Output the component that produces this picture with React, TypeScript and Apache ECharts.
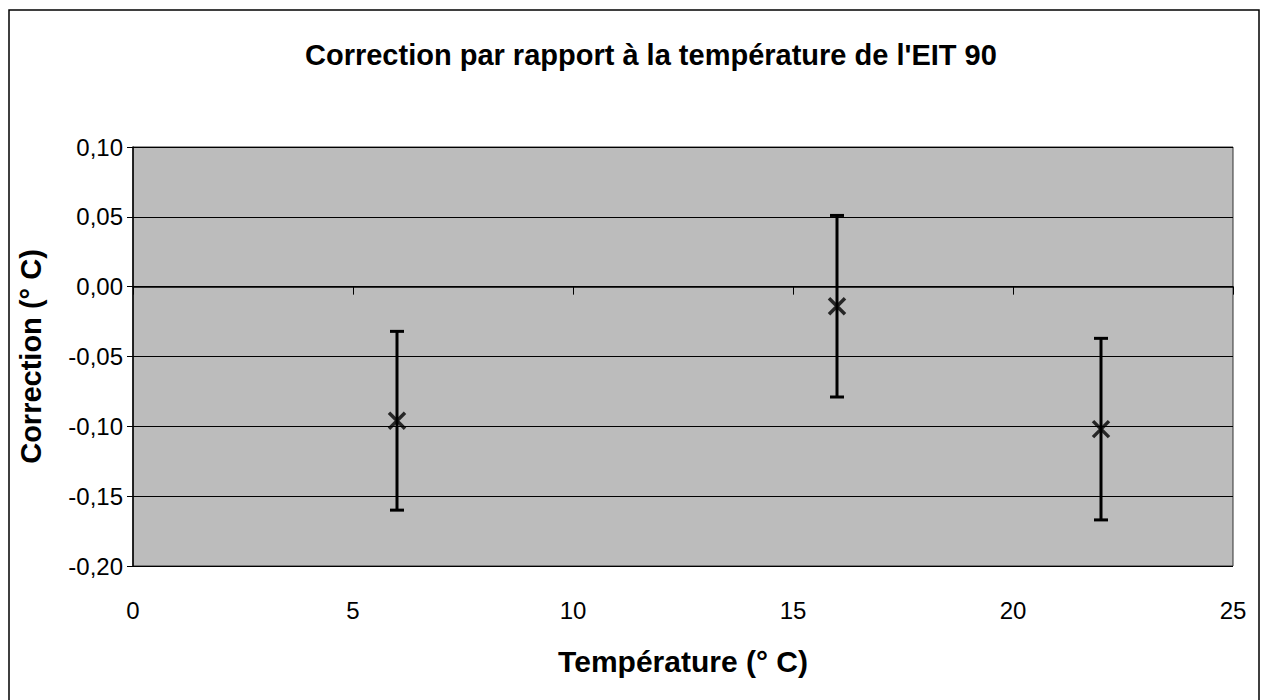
import React, { useEffect, useRef } from "react";
import * as echarts from "echarts";

// Data
const temperatures = [6, 16, 22]; // °C
const corrections = [-0.096, -0.014, -0.102]; // °C
const uncertainties = [0.064, 0.065, 0.065]; // ± °C

const titleText = "Correction par rapport à la température de l'EIT 90";
const xAxisTitle = "Température (° C)";
const yAxisTitle = "Correction (° C)";

const FONT = "'Liberation Sans', Arial, sans-serif";

const fmt = (v: number) => {
  if (Math.abs(v) < 1e-9) return "0,00";
  return v.toFixed(2).replace(".", ",");
};

export default function App() {
  const ref = useRef<HTMLDivElement>(null);

  useEffect(() => {
    if (!ref.current) return;
    const chart = echarts.init(ref.current, undefined, { renderer: "svg" });

    const points = temperatures.map((t, i) => [t, corrections[i]]);
    const bars = temperatures.map((t, i) => [
      t,
      corrections[i] - uncertainties[i],
      corrections[i] + uncertainties[i],
    ]);

    chart.setOption({
      animation: false,
      backgroundColor: "#ffffff",
      textStyle: { fontFamily: FONT, color: "#000" },
      title: {
        text: titleText,
        left: 300,
        top: 35,
        textStyle: { fontFamily: FONT, fontSize: 29, fontWeight: "bold", color: "#000" },
      },
      graphic: [
        {
          type: "rect",
          shape: { x: 9, y: 10, width: 1250, height: 720 },
          style: { fill: "none", stroke: "#000", lineWidth: 1.5 },
          silent: true,
        },
      ],
      grid: {
        left: 133,
        right: 33,
        top: 147,
        bottom: 134,
        show: true,
        backgroundColor: "#bcbcbc",
        borderColor: "#333",
        borderWidth: 1,
      },
      xAxis: [
        {
          type: "value",
          min: 0,
          max: 25,
          interval: 5,
          position: "bottom",
          axisLine: { onZero: true, lineStyle: { color: "#000", width: 1.5 } },
          axisTick: { show: true, inside: false, length: 8, lineStyle: { color: "#000", width: 1 } },
          axisLabel: { show: false },
          splitLine: { show: false },
        },
        {
          type: "value",
          min: 0,
          max: 25,
          interval: 5,
          position: "bottom",
          axisLine: { show: false, onZero: false },
          axisTick: { show: false },
          axisLabel: { margin: 32, fontSize: 24, color: "#000", fontFamily: FONT },
          splitLine: { show: false },
          name: xAxisTitle,
          nameLocation: "middle",
          nameGap: 80,
          nameTextStyle: { fontFamily: FONT, fontSize: 30, fontWeight: "bold", color: "#000" },
        },
      ],
      yAxis: {
        type: "value",
        min: -0.2,
        max: 0.1,
        interval: 0.05,
        axisLine: { show: true, onZero: false, lineStyle: { color: "#000", width: 1.5 } },
        axisTick: { show: true, inside: false, length: 6, lineStyle: { color: "#000" } },
        axisLabel: { formatter: fmt, fontSize: 24, color: "#000", fontFamily: FONT, margin: 10 },
        splitLine: { show: true, lineStyle: { color: "#000", width: 1 } },
        name: yAxisTitle,
        nameLocation: "middle",
        nameRotate: 90,
        nameGap: 88,
        nameTextStyle: { fontFamily: FONT, fontSize: 29, fontWeight: "bold", color: "#000" },
      },
      series: [
        {
          type: "custom",
          xAxisIndex: 0,
          data: bars,
          renderItem: (params: any, api: any) => {
            const x = api.value(0);
            const lo = api.coord([x, api.value(1)]);
            const hi = api.coord([x, api.value(2)]);
            const cap = 7;
            const style = { stroke: "#000", lineWidth: 3 };
            return {
              type: "group",
              children: [
                { type: "line", shape: { x1: lo[0], y1: lo[1], x2: hi[0], y2: hi[1] }, style },
                { type: "line", shape: { x1: lo[0] - cap, y1: lo[1], x2: lo[0] + cap, y2: lo[1] }, style },
                { type: "line", shape: { x1: hi[0] - cap, y1: hi[1], x2: hi[0] + cap, y2: hi[1] }, style },
              ],
            };
          },
          z: 3,
        },
        {
          type: "scatter",
          xAxisIndex: 0,
          data: points,
          symbol: "path://M0,0L10,10M10,0L0,10",
          symbolSize: 16,
          itemStyle: { color: "none", borderColor: "#000", borderWidth: 3.5 },
          z: 4,
        },
      ],
    });

    return () => chart.dispose();
  }, []);

  return (
    <div
      ref={ref}
      style={{ position: "fixed", left: 0, top: 0, width: 1266, height: 700, background: "#fff" }}
    />
  );
}
